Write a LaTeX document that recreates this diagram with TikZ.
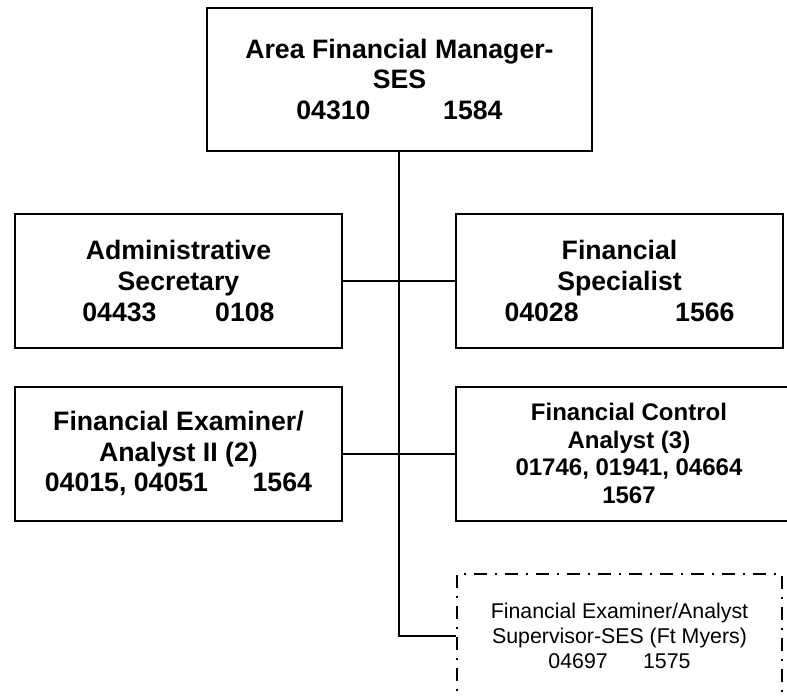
\documentclass[tikz,border=0pt]{standalone}
\usepackage{fontspec}
\setmainfont{Liberation Sans}
\usepackage{tikz}
\usetikzlibrary{positioning}
\tikzstyle{head} = [rectangle,
minimum width=288.75pt,
minimum height=107.25pt,
text centered, align=center,
inner sep=0pt,
draw=black, line width=1.5pt,
font=\bfseries\fontsize{20pt}{23pt}\selectfont]
\tikzstyle{post} = [head,
minimum width=245.25pt,
minimum height=100.5pt]
\tikzstyle{wide} = [post,
minimum width=259.5pt,
font=\bfseries\fontsize{18pt}{20.7pt}\selectfont]
\tikzstyle{vacant} = [rectangle,
minimum width=243.75pt,
minimum height=93pt,
text centered, align=center,
inner sep=0pt,
draw=black, line width=1.1pt,
dash pattern=on 9.75pt off 6pt on 1.5pt off 6pt,
font=\fontsize{16pt}{19pt}\selectfont]
\tikzstyle{link} = [line width=1.5pt]

\begin{document}
\begin{tikzpicture}[on grid]
            \useasboundingbox (-299.6pt,59.6pt) rectangle (290.6pt,-463.1pt);
            \node (mgr) [head] {Area Financial Manager-\\SES\\04310\hspace{54.5pt}1584};
            \node (admin) [post, below left=151.1pt and 165.75pt of mgr] {Administrative\\Secretary\\04433\hspace{44pt}0108};
            \node (spec) [post, below right=151.1pt and 165pt of mgr] {Financial\\Specialist\\04028\hspace{72.4pt}1566};
            \node (exam) [post, below=129.4pt of admin] {Financial Examiner/\\Analyst II (2)\\04015, 04051\hspace{33.5pt}1564};
            \node (ctrl) [wide, below right=129.4pt and 7.1pt of spec] {Financial Control\\Analyst (3)\\01746, 01941, 04664\\1567};
            \node (fxsup) [vacant, below=266.25pt of spec] {Financial Examiner/Analyst\\Supervisor-SES (Ft Myers)\\04697\hspace{26.5pt}1575};

            % reporting lines
            \draw [link] (mgr.south) |- (fxsup.west);
            \draw [link] (admin.east) -- (spec.west);
            \draw [link] (exam.east) -- (ctrl.west);
        \end{tikzpicture}
\end{document}
